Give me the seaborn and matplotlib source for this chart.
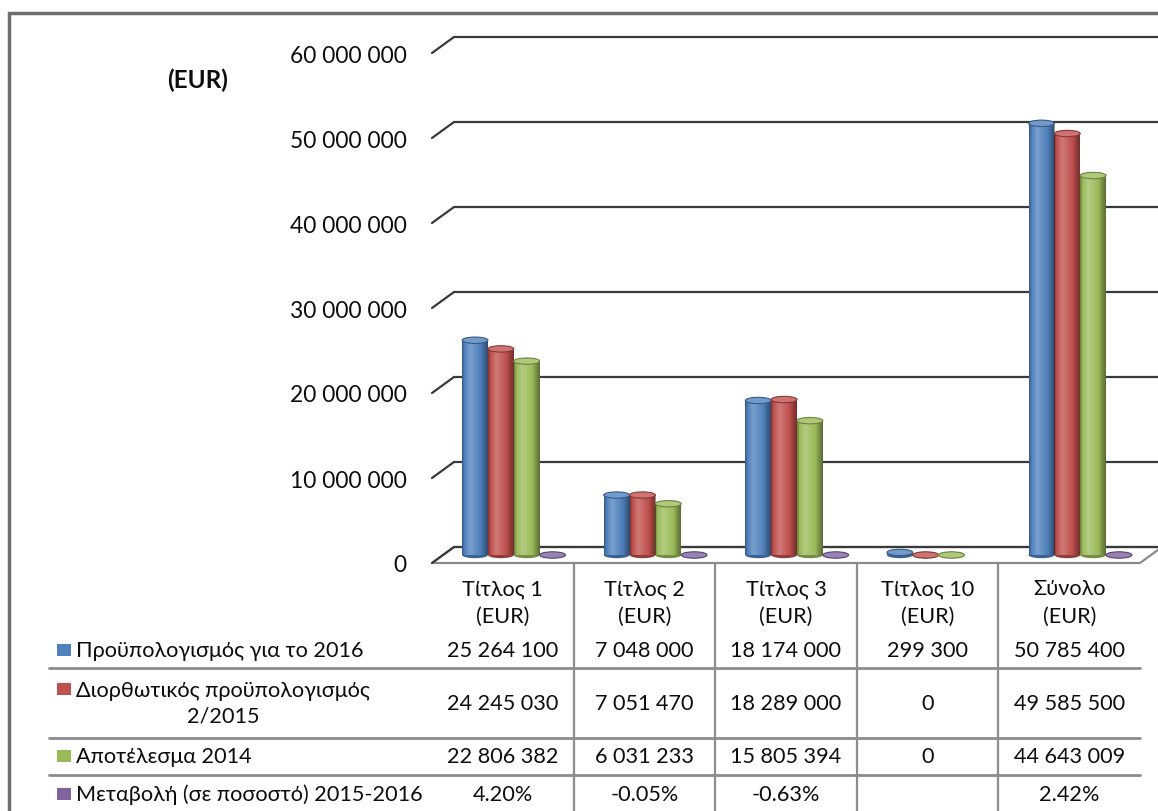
import numpy as np
import pandas as pd
import matplotlib
matplotlib.use("Agg")
import matplotlib.pyplot as plt
import matplotlib.transforms as mtransforms
from matplotlib.patches import Ellipse, Rectangle, Polygon
import seaborn as sns

# data
categories = ["Τίτλος 1", "Τίτλος 2", "Τίτλος 3", "Τίτλος 10", "Σύνολο"]
series = ["Προϋπολογισμός για το 2016",
          "Διορθωτικός προϋπολογισμός\n2/2015",
          "Αποτέλεσμα 2014",
          "Μεταβολή (σε ποσοστό) 2015-2016"]
budget_2016 = [25264100, 7048000, 18174000, 299300, 50785400]
amending_2015 = [24245030, 7051470, 18289000, 0, 49585500]
result_2014 = [22806382, 6031233, 15805394, 0, 44643009]
change_pct = [4.20, -0.05, -0.63, np.nan, 2.42]
yticks = [0, 10000000, 20000000, 30000000, 40000000, 50000000, 60000000]
colors = ["#4F81BD", "#C0504D", "#9BBB59", "#8064A2"]

rows = []
for i, c in enumerate(categories):
    rows.append((c, series[0], budget_2016[i]))
    rows.append((c, series[1], amending_2015[i]))
    rows.append((c, series[2], result_2014[i]))
    rows.append((c, series[3], change_pct[i] / 100))
df = pd.DataFrame(rows, columns=["cat", "series", "value"])

sns.set_style("white")
plt.rcParams['font.family'] = ['Lato', 'Noto Sans', 'DejaVu Sans']
plt.rcParams['text.color'] = "#0d0d0d"

W, H = 1158, 812
fig = plt.figure(figsize=(W / 100, H / 100), dpi=100)

def fx(px):
    return px / W

def fy(py):
    return 1 - py / H

# front plane of the 3d box: x 432..1140, y 564 (0) .. 54 (60M)
ax = fig.add_axes([fx(432), fy(564), fx(1140) - fx(432), (564 - 54) / H])
ax.set_facecolor("none")

sns.barplot(data=df, x="cat", y="value", hue="series", palette=colors,
            width=0.73, saturation=1, order=categories, hue_order=series,
            legend=False, ax=ax, errorbar=None, linewidth=0, zorder=3)

ax.set_xlim(-0.5, 4.5)
ax.set_ylim(0, 60000000)
for s in ax.spines.values():
    s.set_visible(False)
ax.set_xticks([])
ax.set_xlabel("")
ax.set_ylabel("")
ax.set_yticks(yticks)
ax.set_yticklabels([f"{v:,.0f}".replace(",", " ") for v in yticks])
ax.tick_params(axis="y", length=0, pad=18, labelsize=16.4, labelcolor="#0d0d0d")

# depth offsets (pixels)
back = mtransforms.offset_copy(ax.transData, fig=fig, x=22, y=16, units="dots")
mid = mtransforms.offset_copy(ax.transData, fig=fig, x=11, y=8, units="dots")

# floor
ax.add_patch(Polygon([[-0.5, 0], [4.5, 0], [4.5 + 22 / 141.6, 16 * 60000000 / 510],
                      [-0.5 + 22 / 141.6, 16 * 60000000 / 510]],
                     closed=True, facecolor="white", edgecolor="#8a8a8a",
                     lw=1.6, zorder=0.5, clip_on=False))

# back wall gridlines with the diagonal side
for v in yticks:
    trans_pts = [ax.transData.transform((-0.5, v)), back.transform((-0.5, v))]
    (x0, y0), (x1, y1) = [fig.transFigure.inverted().transform(p) for p in trans_pts]
    fig.add_artist(plt.Line2D([x0, x1], [y0, y1], color="#3a3a3a", lw=1.6))
    ax.plot([-0.5, 4.8], [v, v], color="#3a3a3a", lw=1.6, clip_on=False,
            zorder=1, transform=back)

# cylinder look for each bar
grad_t = np.linspace(0, 1, 64)
shade = np.interp(grad_t, [0, 0.1, 0.32, 0.7, 1], [-0.45, 0.0, 0.35, 0.0, -0.6])
img = np.zeros((1, 64, 4))
img[0, :, :3] = (shade > 0)[:, None] * 1.0
img[0, :, 3] = np.abs(shade) * 0.7
ell_h = 0.75e6
for p in list(ax.patches):
    if not isinstance(p, Rectangle):
        continue
    col = np.array(p.get_facecolor()[:3])
    x0, w, h = p.get_x(), p.get_width(), p.get_height()
    if np.isnan(h):
        continue
    p.set_transform(mid)
    ax.add_patch(Ellipse((x0 + w / 2, 0), w, ell_h, facecolor=col * 0.75,
                         edgecolor="none", transform=mid, zorder=2.9, clip_on=False))
    im = ax.imshow(img, extent=[x0, x0 + w, 0, h], transform=mid, aspect="auto",
                   zorder=3.1, interpolation="bilinear", clip_on=False)
    im.set_clip_path(p)
    top = col + (1 - col) * 0.2
    ax.add_patch(Ellipse((x0 + w / 2, h), w, ell_h, facecolor=top,
                         edgecolor=col * 0.7, lw=0.8, transform=mid, zorder=3.2,
                         clip_on=False))
ax.set_xlim(-0.5, 4.5)
ax.set_ylim(0, 60000000)

fig.text(fx(198), fy(80), "(EUR)", ha="center", va="center", fontsize=17.5,
         fontweight="bold")

# data table under the chart
fs = 15.6
tb = mtransforms.blended_transform_factory(ax.transData, fig.transFigure)
for i, c in enumerate(categories):
    fig.text(i, fy(589), c, transform=tb, ha="center", va="center", fontsize=fs)
    fig.text(i, fy(617), "(EUR)", transform=tb, ha="center", va="center", fontsize=fs)

def fmt(v):
    return f"{v:,.0f}".replace(",", " ")

row_y = [651, 704, 757, 795]
values = [budget_2016, amending_2015, result_2014]
for r in range(3):
    for i in range(len(categories)):
        fig.text(i, fy(row_y[r]), fmt(values[r][i]), transform=tb,
                 ha="center", va="center", fontsize=fs)
for i, v in enumerate(change_pct):
    if not np.isnan(v):
        fig.text(i, fy(row_y[3]), f"{v:.2f}%", transform=tb,
                 ha="center", va="center", fontsize=fs)

label_y = [651, 690, 757, 795]
for r in range(4):
    if r == 1:
        fig.text(fx(76), fy(704), series[r], ha="left", va="center",
                 multialignment="center", fontsize=fs, linespacing=1.32)
    else:
        fig.text(fx(76), fy(label_y[r]), series[r], ha="left", va="center", fontsize=fs)
    fig.add_artist(Rectangle((fx(57), fy(label_y[r] + 6)), 14 / W, 12 / H,
                             transform=fig.transFigure, facecolor=colors[r],
                             edgecolor="none"))

for y in [669, 739, 776]:
    fig.add_artist(plt.Line2D([fx(49), fx(1140)], [fy(y), fy(y)],
                              color="#8c8c8c", lw=2))
for xs in [0.5, 1.5, 2.5, 3.5]:
    fig.add_artist(plt.Line2D([xs, xs], [fy(564), fy(812)], transform=tb,
                              color="#8c8c8c", lw=1.6))

# outer frame
fig.add_artist(Rectangle((fx(9), fy(900)), 2, (900 - 14) / H,
                         transform=fig.transFigure, facecolor="none",
                         edgecolor="#6e6e6e", lw=2.5))

fig.savefig("out.png", dpi=100)
